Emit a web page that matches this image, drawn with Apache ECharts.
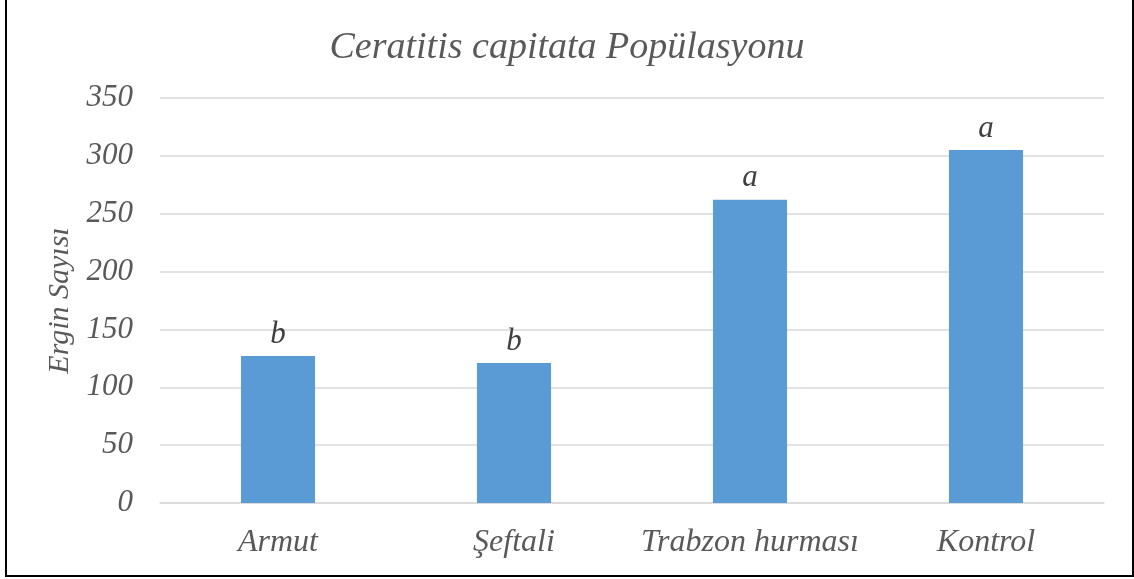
<!DOCTYPE html>
<html>
<head>
<meta charset="utf-8">
<script src="https://cdn.jsdelivr.net/npm/echarts@6/dist/echarts.min.js"></script>
<style>
	html, body { margin: 0; padding: 0; background: #fff; }
	#chart { position: absolute; left: 0; top: 0; width: 1134px; height: 579px; }
	.frame {
		position: absolute; left: 5px; top: -3px; width: 1125px; height: 576px;
		border: 2px solid #000; pointer-events: none;
	}
</style>
</head>
<body>
<div id="chart"></div>
<div class="frame"></div>
<script>
	// veriler
	const categories = ['Armut', 'Şeftali', 'Trabzon hurması', 'Kontrol'];
	const values = [127, 121, 262, 305];
	const letters = ['b', 'b', 'a', 'a'];

	const textColor = '#595959';
	const font = '"Liberation Serif", "DejaVu Serif", serif';

	const chart = echarts.init(document.getElementById('chart'));
	chart.setOption({
		animation: false,
		title: {
			text: 'Ceratitis capitata Popülasyonu',
			left: 'center',
			top: 24,
			textStyle: {
				fontFamily: font,
				fontStyle: 'italic',
				fontWeight: 'normal',
				fontSize: 38,
				color: textColor
			}
		},
		grid: {
			left: 160,
			right: 30,
			top: 98,
			bottom: 76
		},
		xAxis: {
			type: 'category',
			data: categories,
			axisLine: { lineStyle: { color: '#d9d9d9', width: 1.5 } },
			axisTick: { show: false },
			axisLabel: {
				interval: 0,
				hideOverlap: false,
				margin: 24,
				fontFamily: font,
				fontStyle: 'italic',
				fontSize: 32,
				color: textColor
			}
		},
		yAxis: {
			type: 'value',
			min: 0,
			max: 350,
			interval: 50,
			name: 'Ergin Sayısı',
			nameLocation: 'middle',
			nameGap: 82,
			nameTextStyle: {
				fontFamily: font,
				fontStyle: 'italic',
				fontSize: 30,
				color: textColor
			},
			axisLine: { show: false },
			axisTick: { show: false },
			axisLabel: {
				margin: 27,
				fontFamily: font,
				fontStyle: 'italic',
				fontSize: 31,
				color: textColor
			},
			splitLine: { lineStyle: { color: '#d9d9d9', width: 1.5 } }
		},
		series: [{
			type: 'bar',
			data: values,
			barWidth: '31.4%',
			itemStyle: { color: '#5B9BD5' },
			label: {
				show: true,
				position: 'top',
				distance: 6,
				formatter: p => letters[p.dataIndex],
				fontFamily: font,
				fontStyle: 'italic',
				fontSize: 31,
				color: '#404040'
			}
		}]
	});
</script>
</body>
</html>
